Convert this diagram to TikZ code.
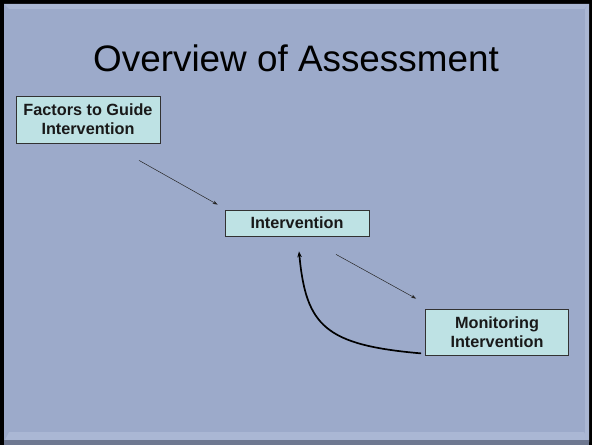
\documentclass[tikz,border=0pt]{standalone}
\usepackage{fontspec}
\setmainfont{Liberation Sans}
\usetikzlibrary{arrows.meta,calc}
\definecolor{bg}{RGB}{156,170,202}
\definecolor{bglight}{RGB}{170,183,212}
\definecolor{bgdark}{RGB}{110,120,145}
\definecolor{boxfill}{RGB}{190,226,228}
\definecolor{boxline}{RGB}{50,50,50}
\tikzset{
  box/.style={draw=boxline, line width=0.8pt, fill=boxfill, inner sep=0pt,
    align=center, font=\fontsize{16.3}{19}\selectfont\bfseries, text=black!90},
  thinarrow/.style={draw=black!85, line width=0.5pt, -{Stealth[length=5pt,width=3.5pt]}},
  thickarrow/.style={draw=black, line width=1.7pt, -{Stealth[length=6pt,width=4.5pt]}}
}
\begin{document}
\begin{tikzpicture}[x=1bp,y=-1bp]
\useasboundingbox (0,0) rectangle (592,445);
% frame and background
\fill[black] (0,0) rectangle (592,445);
\fill[bg] (4,4) rectangle (589,442);
\fill[bglight] (4,4) -- (589,4) -- (584,9) -- (9,9) -- cycle;
\fill[bglight] (589,4) -- (589,442) -- (585,437) -- (585,9) -- cycle;
\fill[bglight] (4,442) -- (589,442) -- (584,432) -- (9,432) -- cycle;
\fill[bgdark] (4,440) rectangle (589,445);
% title
\node[anchor=base, font=\fontsize{37}{40}\selectfont, inner sep=0pt] (title) at (296,72) {Overview of Assessment};
% boxes
\node[box, minimum width=144bp, minimum height=47bp] (f) at (88,119.5) {Factors to Guide\\Intervention};
\node[box, minimum width=144bp, minimum height=26bp] (i) at (297,223) {Intervention};
\node[box, minimum width=143bp, minimum height=46bp] (m) at (497,332) {Monitoring\\Intervention};
% connector end points
\coordinate (a1s) at ($(f.south)+(51,17)$);
\coordinate (a1e) at ($(i.north west)+(-7,-5)$);
\coordinate (a2s) at ($(i.south)+(39,18)$);
\coordinate (a2e) at ($(m.north west)+(-9,-10)$);
\coordinate (cs) at ($(m.south west)+(-4,-2)$);
\coordinate (ce) at ($(i.south)+(2,15)$);
% connectors
\draw[thinarrow] (a1s) -- (a1e);
\draw[thinarrow] (a2s) -- (a2e);
\draw[thickarrow] (cs) .. controls (325,345) and (306,326) .. (ce);
\end{tikzpicture}
\end{document}
